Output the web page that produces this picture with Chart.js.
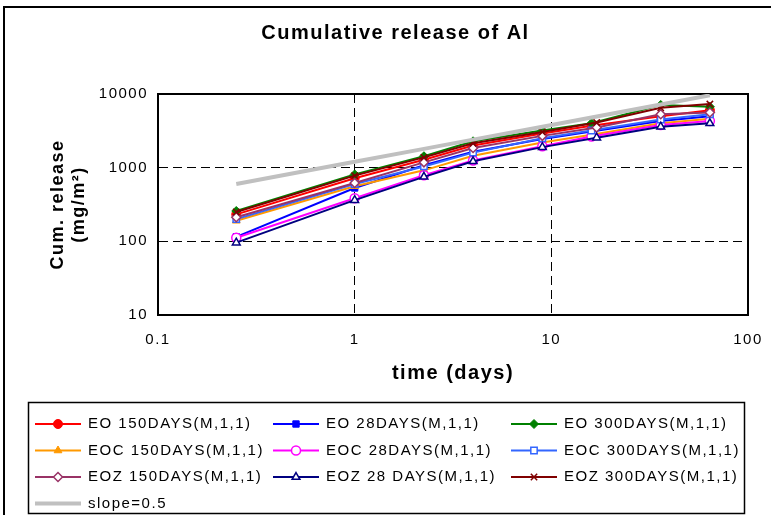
<!DOCTYPE html>
<html>
<head>
<meta charset="utf-8">
<script src="https://cdn.jsdelivr.net/npm/chart.js@4.4.1/dist/chart.umd.min.js"></script>
<style>
  body { margin: 0; background: #fff; }
  #wrap { position: relative; width: 771px; height: 515px; overflow: hidden; }
  #frame { position: absolute; left: 3px; top: 6px; width: 900px; height: 700px; border: 2px solid #000; }
  canvas { position: absolute; left: 0; top: 0; }
</style>
</head>
<body>
<div id="wrap">
  <div id="frame"></div>
  <canvas id="chart" width="771" height="515"></canvas>
</div>
<script>
// sampling times (days) - EOZ samples were taken on day 17 instead of 16
const days = [0.25, 1, 2.25, 4, 9, 16, 36, 64];
const daysZ = [0.25, 1, 2.25, 4, 9, 17, 36, 64];

// cumulative release (mg/m2)
const eo150 = [232, 720, 1280, 2000, 2900, 3700, 5000, 6000];
const eo28 = [115, 530, 1080, 1650, 2450, 3100, 4300, 5000];
const eo300 = [258, 810, 1430, 2280, 3200, 4000, 7100, 6700];
const eoc150 = [190, 560, 920, 1450, 2200, 2800, 4000, 4600];
const eoc28 = [112, 385, 790, 1250, 1950, 2650, 3800, 4300];
const eoc300 = [200, 600, 1040, 1600, 2500, 3200, 4500, 5300];
const eoz150 = [212, 620, 1180, 1850, 2700, 3500, 5300, 5600];
const eoz28 = [96, 362, 750, 1220, 1900, 2550, 3600, 4000];
const eoz300 = [250, 780, 1380, 2150, 3050, 4100, 6500, 7300];
const slope = [600, 1200, 1800, 2400, 3600, 4800, 7200, 9600];

const xTicks = [0.1, 1, 10, 100];
const yTicks = [10, 100, 1000, 10000];

const FONT = 'Arial, "Liberation Sans", sans-serif';

function series(label, x, y, color, style, filled) {
  return {
    label: label,
    data: x.map((d, i) => ({ x: d, y: y[i] })),
    borderColor: color,
    backgroundColor: filled ? color : '#fff',
    pointStyle: style,
    pointRadius: 4.5,
    pointBorderWidth: filled ? 1 : 1.5,
    pointBorderColor: color,
    pointBackgroundColor: filled ? color : '#fff',
    borderWidth: 2,
    showLine: true,
    tension: 0
  };
}

const datasets = [
  series('EO 150DAYS(M,1,1)', days, eo150, '#FF0000', 'circle', true),
  series('EO 28DAYS(M,1,1)', days, eo28, '#0000FF', 'rect', true),
  series('EO 300DAYS(M,1,1)', days, eo300, '#008000', 'rectRot', true),
  series('EOC 150DAYS(M,1,1)', days, eoc150, '#FF9900', 'triangle', true),
  series('EOC 28DAYS(M,1,1)', days, eoc28, '#FF00FF', 'circle', false),
  series('EOC 300DAYS(M,1,1)', days, eoc300, '#3366FF', 'rect', false),
  series('EOZ 150DAYS(M,1,1)', daysZ, eoz150, '#993366', 'rectRot', false),
  series('EOZ 28 DAYS(M,1,1)', daysZ, eoz28, '#000080', 'triangle', false),
  series('EOZ 300DAYS(M,1,1)', daysZ, eoz300, '#800000', 'crossRot', false),
  {
    label: 'slope=0.5',
    data: days.map((d, i) => ({ x: d, y: slope[i] })),
    borderColor: '#C0C0C0',
    backgroundColor: '#C0C0C0',
    borderWidth: 4,
    pointRadius: 0,
    showLine: true
  }
];
// excel draws later series on top
datasets.forEach((ds, i) => { ds.order = datasets.length - i; });

// wider glyph spacing like the original rendering
const spacing = {
  id: 'spacing',
  beforeDraw(chart) { chart.ctx.letterSpacing = '1.5px'; }
};

// full black frame round the plot area
const plotFrame = {
  id: 'plotFrame',
  beforeDatasetsDraw(chart) {
    const { ctx, chartArea: a } = chart;
    ctx.save();
    ctx.strokeStyle = '#000';
    ctx.lineWidth = 2;
    ctx.strokeRect(a.left, a.top, a.right - a.left, a.bottom - a.top);
    ctx.restore();
  }
};

// three column legend in a box under the chart
const legendBox = {
  id: 'legendBox',
  afterDraw(chart) {
    const ctx = chart.ctx;
    ctx.save();
    ctx.strokeStyle = '#000';
    ctx.lineWidth = 1.5;
    ctx.strokeRect(28.5, 402.5, 716, 111);
    ctx.font = '15px ' + FONT;
    ctx.textBaseline = 'middle';
    ctx.textAlign = 'left';
    chart.data.datasets.forEach((ds, i) => {
      const col = i % 3, row = Math.floor(i / 3);
      const x0 = 35 + col * 238, y0 = 424 + row * 26.5;
      ctx.strokeStyle = ds.borderColor;
      ctx.lineWidth = ds.borderWidth;
      ctx.beginPath();
      ctx.moveTo(x0, y0);
      ctx.lineTo(x0 + 46, y0);
      ctx.stroke();
      if (ds.pointRadius) {
        ctx.fillStyle = ds.pointBackgroundColor;
        ctx.lineWidth = ds.pointBorderWidth;
        Chart.helpers.drawPoint(ctx, { pointStyle: ds.pointStyle, radius: 4.5, borderWidth: ds.pointBorderWidth, rotation: 0 }, x0 + 23, y0);
      }
      ctx.fillStyle = '#000';
      ctx.fillText(ds.label, x0 + 53, y0);
    });
    ctx.restore();
  }
};

new Chart(document.getElementById('chart'), {
  type: 'scatter',
  data: { datasets: datasets },
  plugins: [spacing, plotFrame, legendBox],
  options: {
    responsive: false,
    animation: false,
    layout: { padding: { left: 43, right: 23, top: 0, bottom: 120 } },
    plugins: {
      legend: { display: false },
      tooltip: { enabled: false },
      title: {
        display: true,
        text: 'Cumulative release of Al',
        color: '#000',
        font: { family: FONT, size: 20, weight: 'bold' },
        padding: { top: 21, bottom: 49 }
      }
    },
    scales: {
      x: {
        type: 'logarithmic',
        min: 0.1,
        max: 100,
        afterBuildTicks: s => { s.ticks = xTicks.map(v => ({ value: v })); },
        afterFit: s => { s.height = 80; },
        ticks: {
          color: '#000',
          font: { family: FONT, size: 15 },
          padding: 0,
          maxRotation: 0,
          autoSkip: false,
          callback: v => String(v)
        },
        grid: {
          drawTicks: true,
          tickLength: 16,
          tickColor: 'rgba(0,0,0,0)',
          lineWidth: 1,
          color: c => (c.tick && (c.tick.value === 1 || c.tick.value === 10)) ? '#000' : 'rgba(0,0,0,0)'
        },
        border: { display: true, color: '#000', width: 2, dash: [9, 5] },
        title: {
          display: true,
          text: 'time (days)',
          color: '#000',
          font: { family: FONT, size: 20, weight: 'bold' },
          padding: { top: 0, bottom: 10 }
        }
      },
      y: {
        type: 'logarithmic',
        min: 10,
        max: 10000,
        afterBuildTicks: s => { s.ticks = yTicks.map(v => ({ value: v })); },
        afterFit: s => { s.width = 115; },
        ticks: {
          color: '#000',
          font: { family: FONT, size: 15 },
          padding: 10,
          autoSkip: false,
          callback: v => String(v)
        },
        grid: {
          drawTicks: false,
          lineWidth: 1,
          color: c => (c.tick && (c.tick.value === 100 || c.tick.value === 1000)) ? '#000' : 'rgba(0,0,0,0)'
        },
        border: { display: true, color: '#000', width: 2, dash: [9, 5] },
        title: {
          display: true,
          text: ['Cum. release', '(mg/m²)'],
          color: '#000',
          font: { family: FONT, size: 18, weight: 'bold' },
          padding: { top: 4, bottom: 0 }
        }
      }
    }
  }
});
</script>
</body>
</html>
